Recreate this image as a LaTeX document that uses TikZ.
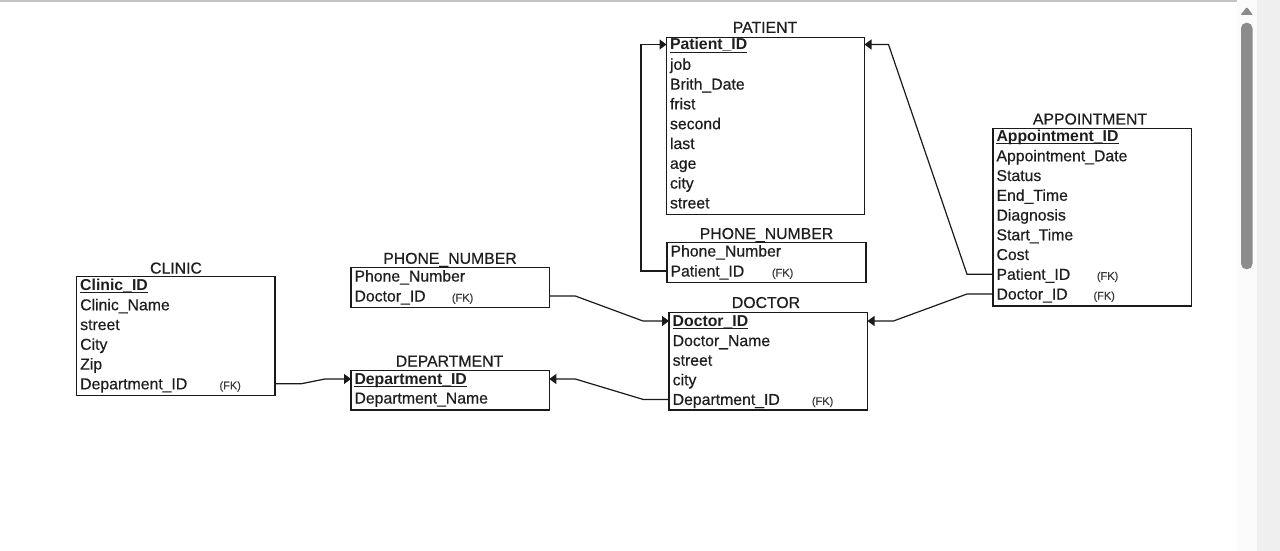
\documentclass[tikz,border=0pt]{standalone}
\usepackage{fontspec}
\setmainfont{Liberation Sans}
\newfontfamily\rowfont{Liberation Sans}[RawFeature={embolden=0.5}]
\usetikzlibrary{arrows.meta,calc}
\definecolor{boxc}{HTML}{1A1A1A}
\definecolor{txtc}{HTML}{1E1E1E}
\definecolor{fkc}{HTML}{3A3A3A}
\definecolor{sbpanel}{HTML}{FBFBFB}
\definecolor{sbstrip}{HTML}{EFEFEF}
\definecolor{sbthumb}{HTML}{8C8C8C}
\definecolor{topline}{HTML}{C4C4C4}
\newcommand\fmain{\rowfont\fontsize{15.8}{18}\selectfont}
\newcommand\ffk{\rowfont\fontsize{11}{13}\selectfont}
\tikzset{
 tbox/.style={draw=boxc, line width=1.4pt, inner sep=0pt, outer sep=0pt, anchor=north west},
 ttl/.style={font=\fmain, text=txtc, inner sep=0pt, text height=12pt, text depth=1pt},
 fld/.style={font=\fmain, text=txtc, inner sep=0pt, anchor=west, text height=12pt, text depth=1pt},
 pkf/.style={fld, font=\fontsize{15.8}{18}\selectfont\bfseries},
 fkl/.style={font=\ffk, text=fkc, inner sep=0pt, anchor=base west},
 rel/.style={draw=boxc, line width=1.2pt, -{Triangle[length=7pt,width=10pt]}},
}
\newcommand\pkrow[4]{%
 \node[pkf] (#1) at (#2,#3) {#4};
 \draw[line width=1.2pt, draw=txtc] ([yshift=-2.2pt]#1.base west) -- ([yshift=-2.2pt]#1.base east);
}
\begin{document}
\begin{tikzpicture}[x=1pt,y=-1pt]
\useasboundingbox (0,0) rectangle (1280,551);
\fill[white] (0,0) rectangle (1280,551);
% window chrome
\fill[topline] (0,0) rectangle (1237,1.6);
\fill[sbpanel] (1237,0) rectangle (1257,551);
\fill[sbstrip] (1257,0) rectangle (1280,551);
\fill[sbthumb, rounded corners=1pt] (1240.5,15) -- (1246.8,7) -- (1253,15) -- cycle;
\fill[sbthumb, rounded corners=5.5pt] (1241,22.7) rectangle (1252.5,269.3);

% ---------- PATIENT ----------
\node[ttl] (patT) at (765,27.3) {PATIENT};
\node[tbox, minimum width=198pt, minimum height=177.2pt] (pat) at (666.5,37.3) {};
\pkrow{pat1}{669.8}{44.5}{Patient\_ID}
\foreach \t [count=\i from 2] in {job,Brith\_Date,frist,second,last,age,city,street}
  \node[fld] (pat\i) at (669.8,{44.5+(\i-1)*19.8}) {\t};

% ---------- PHONE_NUMBER (patient) ----------
\node[ttl] (pnpT) at (766.5,233.5) {PHONE\_NUMBER};
\node[tbox, minimum width=199pt, minimum height=39.8pt] (pnp) at (667,242.5) {};
\node[fld] (pnp1) at (670.3,251) {Phone\_Number};
\node[fld] (pnp2) at (670.3,271) {Patient\_ID};
\node[fkl] (pnpfk) at (771.7,276.5) {(FK)};

% ---------- APPOINTMENT ----------
\node[ttl] (appT) at (1090,119) {APPOINTMENT};
\node[tbox, minimum width=198.5pt, minimum height=177.7pt] (app) at (993,128.3) {};
\pkrow{app1}{996.3}{136}{Appointment\_ID}
\foreach \t [count=\i from 2] in {Appointment\_Date,Status,End\_Time,Diagnosis,Start\_Time,Cost,Patient\_ID,Doctor\_ID}
  \node[fld] (app\i) at (996.3,{136+(\i-1)*19.75}) {\t};
\node[fkl] (appfk8) at (1096.7,279.75) {(FK)};
\node[fkl] (appfk9) at (1093.3,299.5) {(FK)};

% ---------- CLINIC ----------
\node[ttl] (cliT) at (176,268) {CLINIC};
\node[tbox, minimum width=198.3pt, minimum height=119pt] (cli) at (76.7,276.7) {};
\pkrow{cli1}{80}{285}{Clinic\_ID}
\foreach \t [count=\i from 2] in {Clinic\_Name,street,City,Zip,Department\_ID}
  \node[fld] (cli\i) at (80,{285+(\i-1)*19.76}) {\t};
\node[fkl] (clifk) at (219.3,389.3) {(FK)};

% ---------- PHONE_NUMBER (doctor) ----------
\node[ttl] (pndT) at (450,258.3) {PHONE\_NUMBER};
\node[tbox, minimum width=198.3pt, minimum height=39.6pt] (pnd) at (351,267.7) {};
\node[fld] (pnd1) at (354.3,276) {Phone\_Number};
\node[fld] (pnd2) at (354.3,296) {Doctor\_ID};
\node[fkl] (pndfk) at (451.7,301.5) {(FK)};

% ---------- DEPARTMENT ----------
\node[ttl] (depT) at (449.5,361) {DEPARTMENT};
\node[tbox, minimum width=198.3pt, minimum height=39.3pt] (dep) at (351,370.7) {};
\pkrow{dep1}{354.3}{379}{Department\_ID}
\node[fld] (dep2) at (354.3,398) {Department\_Name};

% ---------- DOCTOR ----------
\node[ttl] (docT) at (766,302.5) {DOCTOR};
\node[tbox, minimum width=198.5pt, minimum height=97.3pt] (doc) at (669,312.7) {};
\pkrow{doc1}{672.5}{321}{Doctor\_ID}
\foreach \t [count=\i from 2] in {Doctor\_Name,street,city,Department\_ID}
  \node[fld] (doc\i) at (672.5,{321+(\i-1)*19.6}) {\t};
\node[fkl] (docfk) at (811.7,404.9) {(FK)};

% ---------- relationships ----------
\draw[rel] (pnp.west |- pnp2) -- ++(-26,0) |- (pat.west |- pat1);
\draw[rel] (app.west |- app8) -- ++(-26,0) -- ([xshift=24pt]pat.east |- pat1) -- (pat.east |- pat1);
\draw[rel] (app.west |- app9) -- ++(-26,0) -- ([xshift=26pt]doc.east |- doc1) -- (doc.east |- doc1);
\draw[rel] (pnd.east |- pnd2) -- ++(26,0) -- ([xshift=-26pt]doc.west |- doc1) -- (doc.west |- doc1);
\draw[rel] (doc.west |- doc5) -- ++(-26,0) -- ([xshift=26pt]dep.east |- dep1) -- (dep.east |- dep1);
\draw[rel] (cli.east |- cli6) -- ++(26,0) -- ([xshift=-26pt]dep.west |- dep1) -- (dep.west |- dep1);
\end{tikzpicture}
\end{document}
